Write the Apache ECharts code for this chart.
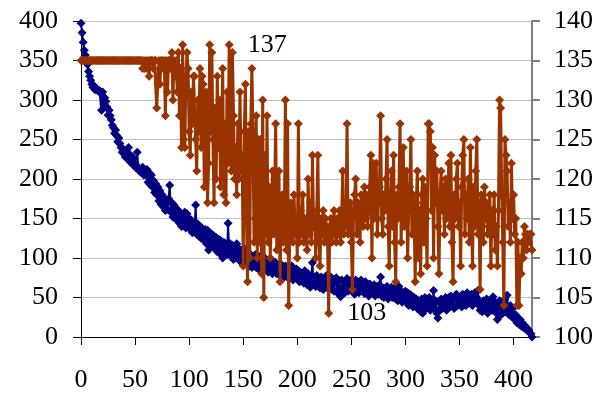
<!DOCTYPE html>
<html>
<head>
<meta charset="utf-8">
<script src="https://cdn.jsdelivr.net/npm/echarts@6/dist/echarts.min.js"></script>
<style>
  html, body { margin: 0; padding: 0; background: #fff; }
  #chart { width: 606px; height: 394px; }
</style>
</head>
<body>
<div id="chart"></div>
<script>
// Left-axis series (navy): steadily decaying measurement, one value per step
const decayValues = [
  397, 385, 373, 363, 357, 350, 345, 336, 330, 325,
  320, 316, 318, 313, 315, 313, 311, 312, 310, 287,
  310, 295, 303, 298, 291, 281, 287, 280, 275, 268,
  265, 258, 262, 255, 247, 252, 245, 240, 234, 238,
  232, 228, 236, 227, 240, 222, 230, 224, 218, 226,
  220, 214, 234, 215, 210, 212, 208, 215, 205, 208,
  205, 212, 196, 208, 193, 205, 190, 198, 183, 194,
  180, 190, 172, 185, 168, 180, 165, 176, 160, 173,
  162, 175, 192, 158, 170, 152, 167, 150, 163, 148,
  160, 144, 156, 140, 152, 146, 158, 138, 156, 142,
  150, 136, 148, 132, 145, 138, 167, 130, 143, 128,
  140, 125, 138, 133, 122, 136, 118, 135, 110, 132,
  120, 130, 115, 128, 112, 126, 108, 124, 106, 122,
  114, 100, 120, 108, 118, 104, 144, 110, 118, 102,
  116, 98, 113, 105, 118, 100, 112, 96, 110, 102,
  97, 112, 95, 108, 92, 106, 90, 104, 88, 100,
  94, 104, 88, 100, 86, 98, 92, 104, 84, 96,
  100, 86, 95, 82, 94, 88, 98, 80, 92, 86,
  94, 80, 90, 84, 78, 92, 82, 88, 76, 90,
  80, 88, 74, 86, 80, 90, 72, 84, 78, 86,
  76, 84, 70, 82, 74, 80, 68, 84, 72, 66,
  80, 70, 63, 78, 94, 68, 76, 64, 78, 70,
  74, 62, 76, 66, 60, 74, 64, 78, 62, 72,
  66, 76, 60, 72, 58, 70, 75, 56, 72, 62,
  51, 72, 60, 70, 56, 68, 74, 58, 70, 62,
  72, 58, 68, 54, 72, 60, 70, 56, 66, 72,
  60, 68, 55, 70, 58, 66, 52, 67, 58, 64,
  56, 66, 52, 64, 58, 54, 66, 76, 52, 62,
  50, 62, 54, 64, 48, 60, 52, 63, 50, 56,
  62, 48, 60, 46, 64, 52, 58, 44, 56, 50,
  58, 44, 56, 40, 54, 46, 52, 38, 50, 42,
  48, 36, 46, 40, 32, 48, 30, 44, 50, 36,
  48, 38, 50, 34, 44, 40, 59, 36, 46, 30,
  24, 44, 34, 48, 36, 46, 38, 50, 34, 46,
  50, 38, 52, 40, 48, 36, 50, 54, 40, 48,
  42, 52, 38, 54, 44, 50, 40, 56, 44, 52,
  42, 54, 40, 52, 56, 44, 50, 59, 40, 34,
  44, 32, 46, 36, 42, 48, 30, 44, 36, 46,
  34, 51, 36, 44, 30, 22, 40, 46, 28, 44,
  30, 42, 48, 32, 53, 34, 28, 40, 26, 36,
  30, 22, 28, 18, 24, 16, 22, 14, 18, 12,
  15, 10, 12, 8, 9, 5, 4, 0
];

// Right-axis series (brown): holds at 135, then fluctuates between 103 and 137
const swingValues = [
  135, 135, 135, 135, 135, 135, 135, 135, 135, 135,
  135, 135, 135, 135, 135, 135, 135, 135, 135, 135,
  135, 135, 135, 135, 135, 135, 135, 135, 135, 135,
  135, 135, 135, 135, 135, 135, 135, 135, 135, 135,
  135, 135, 135, 135, 135, 135, 135, 135, 135, 135,
  135, 135, 135, 135, 135, 135, 135, 134, 135, 134,
  135, 134, 135, 133, 135, 135, 135, 134, 135, 135,
  129, 132, 135, 132, 135, 135, 134, 135, 128, 135,
  131, 135, 135, 134, 136, 130, 135, 133, 135, 131,
  136, 128, 134, 124, 137, 125, 124, 133, 136, 134,
  126, 123, 131, 127, 133, 133, 125, 121, 130, 126,
  134, 124, 133, 132, 119, 128, 131, 117, 122, 137,
  126, 136, 125, 117, 129, 120, 133, 124, 130, 119,
  126, 134, 118, 127, 117, 131, 122, 137, 126, 121,
  136, 128, 120, 124, 118, 127, 120, 131, 121, 123,
  109, 126, 132, 115, 107, 126, 110, 127, 134, 126,
  112, 115, 128, 110, 125, 112, 125, 108, 130, 105,
  123, 113, 128, 112, 119, 110, 116, 121, 113, 118,
  127, 111, 116, 121, 107, 114, 118, 112, 115, 130,
  111, 127, 104, 113, 117, 114, 112, 118, 113, 115,
  110, 127, 112, 116, 113, 118, 112, 115, 114, 111,
  120, 113, 117, 112, 123, 114, 115, 110, 116, 123,
  112, 109, 115, 113, 116, 112, 115, 114, 112, 103,
  114, 115, 112, 114, 116, 113, 112, 115, 113, 116,
  112, 115, 121, 113, 116, 114, 127, 113, 115, 117,
  112, 106, 116, 118, 120, 113, 117, 115, 112, 118,
  116, 114, 119, 115, 118, 114, 116, 119, 123, 110,
  122, 115, 118, 122, 113, 117, 119, 128, 115, 113,
  118, 116, 120, 125, 114, 109, 117, 121, 114, 123,
  112, 107, 118, 115, 119, 127, 112, 118, 124, 114,
  117, 121, 110, 116, 119, 125, 113, 118, 115, 107,
  117, 121, 110, 116, 108, 118, 120, 112, 119, 115,
  109, 127, 127, 126, 116, 124, 110, 123, 117, 121,
  114, 108, 118, 121, 116, 119, 113, 120, 115, 117,
  122, 114, 123, 112, 107, 118, 115, 120, 122, 114,
  117, 109, 119, 123, 125, 113, 118, 115, 120, 112,
  124, 116, 109, 119, 114, 121, 125, 113, 117, 106,
  118, 114, 112, 119, 115, 117, 113, 115, 118, 109,
  116, 113, 118, 111, 114, 109, 116, 130, 129, 118,
  112, 104, 125, 123, 121, 114, 117, 112, 122, 115,
  118, 113, 115, 104, 112, 104, 110, 108, 112, 110,
  114, 113, 111, 113, 112, 113, 113, 111
];

// X-axis steps 0..N-1; only every 50th one gets a tick label
const steps = decayValues.map((_, i) => String(i));
const leftTicks = { min: 0, max: 400, interval: 50 };
const rightTicks = { min: 100, max: 140, interval: 5 };

// Points whose value is written next to them
const labelledSteps = [137, 229];

const FONT = '"Liberation Serif", "Times New Roman", serif';

const swingData = swingValues.map((v, i) => {
  if (labelledSteps.indexOf(i) === -1) return v;
  return {
    value: v,
    label: {
      show: true,
      position: 'right',
      distance: 14,
      formatter: '{c}',
      color: '#000',
      fontFamily: FONT,
      fontSize: 26
    }
  };
});

const chart = echarts.init(document.getElementById('chart'), null, { renderer: 'canvas' });

chart.setOption({
  animation: false,
  backgroundColor: '#ffffff',
  grid: { left: 81, right: 74, top: 21, bottom: 57 },
  xAxis: {
    type: 'category',
    data: steps,
    boundaryGap: false,
    axisLine: { lineStyle: { color: '#000', width: 1 } },
    axisTick: { interval: 49, length: 8, lineStyle: { color: '#000' } },
    axisLabel: {
      interval: 49,
      margin: 30,
      color: '#000',
      fontFamily: FONT,
      fontSize: 26
    },
    splitLine: { show: false }
  },
  yAxis: [
    {
      type: 'value',
      min: leftTicks.min,
      max: leftTicks.max,
      interval: leftTicks.interval,
      axisLine: { show: true, lineStyle: { color: '#000', width: 1 } },
      axisTick: { show: true, length: 8, lineStyle: { color: '#000' } },
      axisLabel: { margin: 23, color: '#000', fontFamily: FONT, fontSize: 26 },
      splitLine: { show: true, lineStyle: { color: '#c0c0c0', width: 1 } }
    },
    {
      type: 'value',
      position: 'right',
      min: rightTicks.min,
      max: rightTicks.max,
      interval: rightTicks.interval,
      axisLine: { show: true, lineStyle: { color: '#808080', width: 2 } },
      axisTick: { show: true, length: 8, lineStyle: { color: '#808080', width: 2 } },
      axisLabel: { margin: 22, color: '#000', fontFamily: FONT, fontSize: 26 },
      splitLine: { show: false }
    }
  ],
  series: [
    {
      type: 'line',
      yAxisIndex: 0,
      data: decayValues,
      symbol: 'diamond',
      symbolSize: 9,
      showAllSymbol: true,
      lineStyle: { color: '#000080', width: 2 },
      itemStyle: { color: '#000080' },
      z: 2
    },
    {
      type: 'line',
      yAxisIndex: 1,
      data: swingData,
      symbol: 'diamond',
      symbolSize: 9,
      showAllSymbol: true,
      lineStyle: { color: '#993300', width: 3 },
      itemStyle: { color: '#993300' },
      z: 3
    }
  ]
});
</script>
</body>
</html>
